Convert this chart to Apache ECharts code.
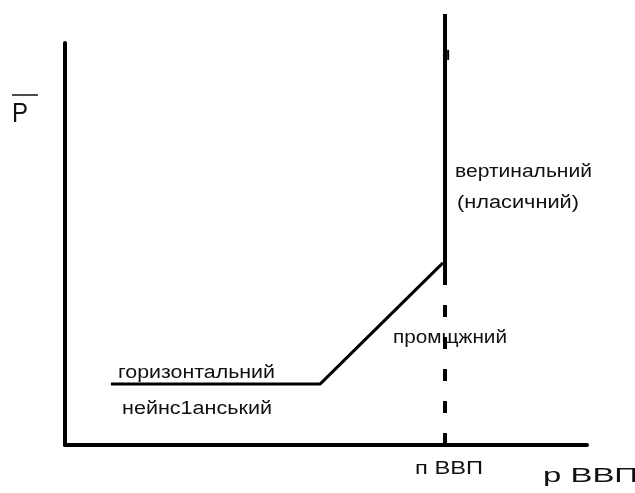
<!DOCTYPE html>
<html>
<head>
<meta charset="utf-8">
<script src="https://cdn.jsdelivr.net/npm/echarts@6/dist/echarts.min.js"></script>
<style>
  html, body { margin: 0; padding: 0; background: #fff; }
  #chart { width: 635px; height: 493px; }
</style>
</head>
<body>
<div id="chart"></div>
<script>
// aggregate supply curve: horizontal -> intermediate -> vertical
const curveX = [8.8, 48.9, 72.4];
const curveY = [15.2, 15.2, 45.3];
// potential output (vertical classical segment)
const potentialX = 72.8;
const verticalY = [0, 39.8, 107.2]; // bottom, end of dashes, top
const hookY = [98.3, 95.8];
const hookX = 73.4;

const labels = ['вертинальний', '(нласичний)', 'промщжний', 'горизонтальний', 'нейнс1анський', 'п ВВП', 'р ВВП', 'P'];

const chartDom = document.getElementById('chart');
const myChart = echarts.init(chartDom);

const FONT = '"Liberation Sans", Arial, sans-serif';
const ctx = document.createElement('canvas').getContext('2d');

// text, left x, baseline y, font size, target width
function label(text, x, base, size, width) {
  ctx.font = size + 'px ' + FONT;
  const w = ctx.measureText(text).width;
  return {
    type: 'text',
    x: x,
    y: base - 0.31 * size,
    scaleX: width / w,
    style: {
      text: text,
      font: size + 'px ' + FONT,
      fill: '#111',
      align: 'left',
      verticalAlign: 'middle'
    }
  };
}

const option = {
  animation: false,
  backgroundColor: '#fff',
  grid: { left: 65, right: 48, top: 43, bottom: 48 },
  xAxis: {
    type: 'value',
    min: 0,
    max: 100,
    axisLine: { show: true, lineStyle: { color: '#000', width: 4 } },
    axisTick: { show: false },
    axisLabel: { show: false },
    splitLine: { show: false }
  },
  yAxis: {
    type: 'value',
    min: 0,
    max: 100,
    axisLine: { show: true, lineStyle: { color: '#000', width: 4 } },
    axisTick: { show: false },
    axisLabel: { show: false },
    splitLine: { show: false }
  },
  series: [
    {
      type: 'line',
      data: curveX.map((x, i) => [x, curveY[i]]),
      showSymbol: false,
      lineStyle: { color: '#000', width: 3 }
    },
    {
      type: 'line',
      clip: false,
      data: [[potentialX, verticalY[1]], [potentialX, verticalY[2]]],
      showSymbol: false,
      lineStyle: { color: '#000', width: 4 }
    },
    {
      type: 'line',
      data: [[potentialX, verticalY[1]], [potentialX, verticalY[0]]],
      showSymbol: false,
      lineStyle: { color: '#000', width: 4, type: [12, 20], dashOffset: 12 }
    },
    {
      type: 'line',
      data: hookY.map(y => [hookX, y]),
      showSymbol: false,
      lineStyle: { color: '#000', width: 2 }
    }
  ],
  graphic: [
    label(labels[0], 455, 178, 18, 137),
    label(labels[1], 457, 209, 18, 122),
    label(labels[2], 393, 344, 18, 114),
    label(labels[3], 118, 379, 18, 157),
    label(labels[4], 122, 415, 18, 150),
    label(labels[5], 415, 475, 18, 68),
    label(labels[6], 543, 483, 21, 95),
    label(labels[7], 12, 123, 28, 16),
    {
      type: 'line',
      shape: { x1: 12, y1: 95, x2: 38, y2: 95 },
      style: { stroke: '#111', lineWidth: 1.5 }
    }
  ]
};

myChart.setOption(option);
</script>
</body>
</html>
